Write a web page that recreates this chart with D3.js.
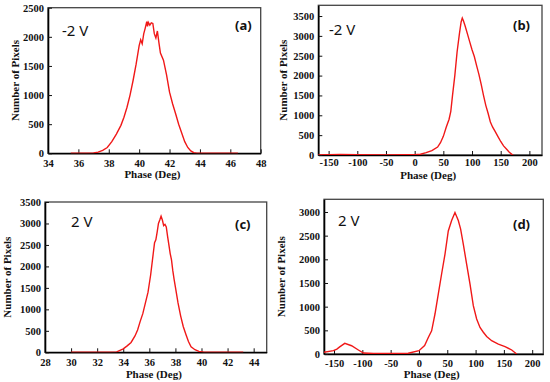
<!DOCTYPE html>
<html>
<head>
<meta charset="utf-8">
<script src="https://cdn.jsdelivr.net/npm/d3@7"></script>
<style>
	body { margin: 0; background: #fff; }
	svg { display: block; }
	.tick text { font-family: "Liberation Serif", "DejaVu Serif", serif; font-weight: bold; font-size: 10.5px; fill: #111; }
	.tick line { stroke: #111; stroke-width: 1; }
	.title { font-family: "Liberation Serif", "DejaVu Serif", serif; font-weight: bold; font-size: 11px; fill: #111; }
	.volt { font-family: "Noto Sans", sans-serif; font-size: 15px; fill: #111; }
	.tag { font-family: "Noto Sans", sans-serif; font-weight: bold; font-size: 13px; fill: #111; }
</style>
</head>
<body>
<div id="chart"></div>
<script>
// panel (a): -2 V, narrow phase range
let phaseA = [35.5, 36, 36.5, 37, 37.3, 37.6, 37.9, 38.2, 38.5, 38.8, 39.0, 39.2, 39.4, 39.6, 39.8, 40.0, 40.1, 40.2, 40.3, 40.4, 40.5, 40.55, 40.6, 40.7, 40.8, 40.9, 41.0, 41.1, 41.2, 41.3, 41.4, 41.6, 41.8, 42.0, 42.2, 42.4, 42.6, 42.8, 43.0, 43.2, 43.4, 43.6, 43.8, 44, 45, 46, 46.5];
let countA = [0, 0, 0, 5, 20, 50, 100, 200, 330, 480, 620, 790, 1000, 1250, 1530, 1850, 1950, 1880, 2050, 2150, 2260, 2180, 2250, 2200, 2240, 2230, 2050, 1980, 2100, 1900, 1720, 1600, 1350, 1050, 850, 680, 500, 350, 200, 100, 40, 10, 0, 0, 0, 0, 0];
let ticksA = [34, 36, 38, 40, 42, 44, 46, 48];
let yTicksA = [0, 500, 1000, 1500, 2000, 2500];

// panel (b): -2 V, full phase range
let phaseB = [-170, -150, -130, -100, -50, -20, 0, 10, 20, 30, 40, 45, 50, 55, 60, 63, 66, 70, 74, 78, 81, 83, 85, 88, 92, 96, 100, 104, 108, 112, 116, 120, 124, 128, 132, 136, 140, 145, 150, 155, 160, 165, 170, 172];
let countB = [0, 10, 15, 5, 0, 10, 10, 20, 60, 110, 200, 310, 470, 700, 900, 1100, 1500, 2000, 2600, 3050, 3350, 3450, 3380, 3250, 3050, 2850, 2650, 2480, 2250, 2030, 1780, 1500, 1250, 1050, 830, 700, 600, 470, 340, 230, 150, 70, 10, 0];
let ticksB = [-150, -100, -50, 0, 50, 100, 150, 200];
let yTicksB = [0, 500, 1000, 1500, 2000, 2500, 3000, 3500];

// panel (c): 2 V, narrow phase range
let phaseC = [30, 31, 32, 33, 33.5, 34, 34.3, 34.6, 34.9, 35.1, 35.3, 35.5, 35.7, 35.9, 36.1, 36.3, 36.4, 36.5, 36.6, 36.7, 36.8, 36.9, 37.0, 37.1, 37.2, 37.3, 37.4, 37.5, 37.6, 37.7, 37.8, 37.9, 38.0, 38.2, 38.4, 38.6, 38.8, 39.0, 39.2, 39.5, 39.8, 40.2, 41, 42, 43.2];
let countC = [0, 0, 0, 0, 10, 80, 150, 230, 380, 520, 720, 900, 1150, 1400, 1800, 2300, 2550, 2620, 2800, 3000, 3080, 3170, 3080, 2950, 2980, 2920, 2700, 2500, 2300, 2150, 1900, 1700, 1520, 1150, 850, 600, 420, 250, 130, 60, 20, 0, 0, 0, 0];
let ticksC = [28, 30, 32, 34, 36, 38, 40, 42, 44];
let yTicksC = [0, 500, 1000, 1500, 2000, 2500, 3000, 3500];

// panel (d): 2 V, full phase range
let phaseD = [-168, -151, -145, -140, -131, -119, -107, -98, -80, -50, -19, 0, 10, 16.5, 22.4, 28.3, 34.2, 40, 46, 51.8, 57.7, 63.6, 69.5, 73.6, 78.3, 84.2, 90.1, 96, 101.9, 107.8, 113.7, 119.6, 128.4, 140.2, 152, 163.8, 172.6];
let countD = [35, 70, 105, 150, 225, 175, 85, 20, 10, 10, 15, 70, 180, 350, 490, 845, 1270, 1690, 2110, 2600, 2820, 2990, 2820, 2640, 2320, 1900, 1480, 1020, 740, 560, 460, 370, 280, 210, 155, 85, 0];
let ticksD = [-150, -100, -50, 0, 50, 100, 150, 200];
let yTicksD = [0, 500, 1000, 1500, 2000, 2500, 3000];

let svg = d3.select("#chart")
	.append("svg")
	.attr("width", 550)
	.attr("height", 382);

// plain labels: hyphen minus, no thousands comma
let fmt = d => String(d);

// draws one histogram panel inside the given frame box
function panel(id, box, xDom, yDom, phase, count, xt, yt, volt, tag) {
	let x = d3.scaleLinear().domain(xDom).range([box.left, box.right]);
	let y = d3.scaleLinear().domain(yDom).range([box.bottom, box.top]);

	svg.append("clipPath").attr("id", "clip" + id)
		.append("rect")
		.attr("x", box.left).attr("y", box.top)
		.attr("width", box.right - box.left).attr("height", box.bottom - box.top);

	// frame
	svg.append("rect")
		.attr("x", box.left).attr("y", box.top)
		.attr("width", box.right - box.left).attr("height", box.bottom - box.top)
		.attr("fill", "none").attr("stroke", "#444").attr("stroke-width", 1.3);

	svg.append("g")
		.attr("transform", "translate(0," + box.bottom + ")")
		.call(d3.axisBottom(x).tickValues(xt).tickFormat(fmt).tickSize(-4).tickPadding(box.xpad).tickSizeOuter(0))
		.call(g => g.select(".domain").attr("stroke", "#000").attr("stroke-width", 1.6));

	svg.append("g")
		.attr("transform", "translate(" + box.left + ",0)")
		.call(d3.axisLeft(y).tickValues(yt).tickFormat(fmt).tickSize(-4).tickPadding(4).tickSizeOuter(0))
		.call(g => g.select(".domain").attr("stroke", "#000").attr("stroke-width", 1.6));

	let pts = phase.map((p, i) => [p, count[i]]);
	svg.append("path")
		.datum(pts)
		.attr("clip-path", "url(#clip" + id + ")")
		.attr("fill", "none")
		.attr("stroke", "#f01818")
		.attr("stroke-width", 1.4)
		.attr("d", d3.line().x(d => x(d[0])).y(d => y(d[1])));

	// axis titles
	svg.append("text").attr("class", "title")
		.attr("text-anchor", "middle")
		.attr("transform", "translate(" + box.ylx + "," + ((box.top + box.bottom) / 2) + ") rotate(-90)")
		.text("Number of Pixels");
	svg.append("text").attr("class", "title")
		.attr("text-anchor", "middle")
		.attr("x", (box.left + box.right) / 2 - 2)
		.attr("y", box.xly)
		.text("Phase (Deg)");

	svg.append("text").attr("class", "volt")
		.attr("x", box.vx).attr("y", box.vy)
		.text(volt);
	svg.append("text").attr("class", "tag")
		.attr("x", box.tx).attr("y", box.ty)
		.text(tag);
}

panel("a", { left: 48, right: 260.7, top: 7.7, bottom: 153.3, xpad: 6, ylx: 19, xly: 178, vx: 62, vy: 36, tx: 235, ty: 30 },
	[34, 48], [0, 2500], phaseA, countA, ticksA, yTicksA, "-2 V", "(a)");
panel("b", { left: 318.3, right: 542, top: 5.3, bottom: 155, xpad: 4, ylx: 287, xly: 179, vx: 329, vy: 35, tx: 513, ty: 30 },
	[-168, 222], [0, 3770], phaseB, countB, ticksB, yTicksB, "-2 V", "(b)");
panel("c", { left: 45, right: 266.7, top: 202, bottom: 352.3, xpad: 6, ylx: 11, xly: 378, vx: 71, vy: 227, tx: 235, ty: 229 },
	[28, 45], [0, 3500], phaseC, countC, ticksC, yTicksC, "2 V", "(c)");
panel("d", { left: 324, right: 543.3, top: 199.3, bottom: 354, xpad: 6, ylx: 285, xly: 378, vx: 338, vy: 226, tx: 513, ty: 229 },
	[-167.7, 219.6], [0, 3268], phaseD, countD, ticksD, yTicksD, "2 V", "(d)");
</script>
</body>
</html>
